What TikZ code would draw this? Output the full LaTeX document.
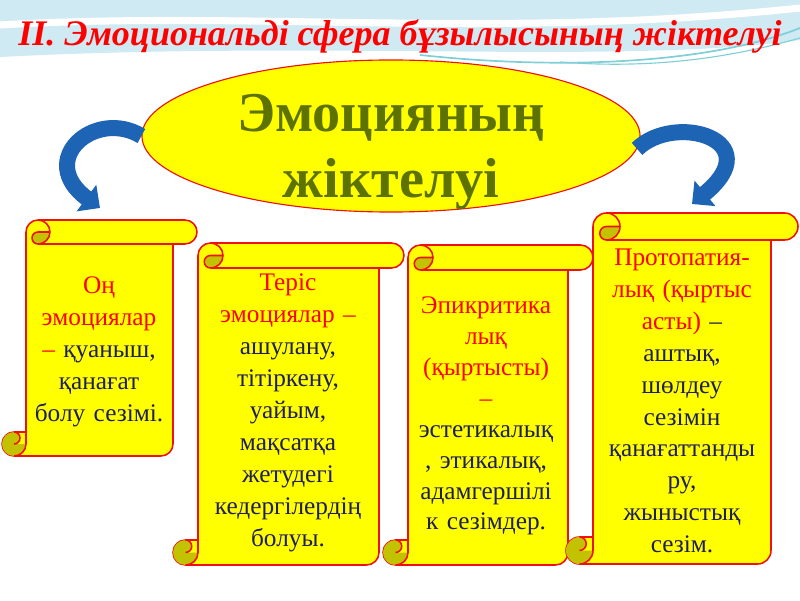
\documentclass[tikz,border=0pt]{standalone}
\usepackage{fontspec}
\setmainfont{Liberation Serif}
\usetikzlibrary{shapes.geometric,arrows.meta}

\definecolor{scrollyellow}{HTML}{FFFF00}
\definecolor{scrollred}{HTML}{F01010}
\definecolor{curlolive}{HTML}{C2C200}
\definecolor{txtred}{HTML}{FF0000}
\definecolor{txtnavy}{HTML}{1E1E5A}
\definecolor{emogreen}{HTML}{5E7200}
\definecolor{arrowblue}{HTML}{1E64B4}
\definecolor{bgblue}{HTML}{CFEAF3}
\definecolor{bgteal}{HTML}{7FCFD8}

\tikzset{
  scrollline/.style={draw=scrollred, line width=1.1pt, line join=round},
  scrolltext/.style={align=center, inner sep=0pt, font=\fontsize{18}{22.7}\selectfont},
  bluearrow/.style={draw=arrowblue, line width=0.4cm, -{Triangle[length=0.42cm,width=0.8cm]}},
}

% vertical scroll: left, right, top, bottom, roll thickness
\newcommand{\scrollbox}[5]{%
  \pgfmathsetmacro{\sa}{#5/2}%
  \pgfmathsetmacro{\sq}{#5/4}%
  \pgfmathsetmacro{\xb}{#1+#5}%
  \pgfmathsetmacro{\xc}{#1+1.5*#5}%
  \pgfmathsetmacro{\xd}{#1+2*#5}%
  \pgfmathsetmacro{\xf}{#2-#5}%
  \pgfmathsetmacro{\xg}{#2-#5/2}%
  \pgfmathsetmacro{\xh}{#1+#5/2}%
  \pgfmathsetmacro{\yt}{#3-#5/2}%
  \pgfmathsetmacro{\ytb}{#3-#5}%
  \pgfmathsetmacro{\yc}{#4+#5}%
  \pgfmathsetmacro{\yh}{#4+#5/2}%
  \draw[scrollline, fill=scrollyellow] (\xb,\yc) -- (\xb,\yt)
    arc[start angle=180,end angle=90,radius=\sa] -- (\xg,#3)
    arc[start angle=90,end angle=-90,radius=\sa] -- (\xf,\ytb) -- (\xf,\yh)
    arc[start angle=0,end angle=-90,radius=\sa] -- (\xh,#4)
    arc[start angle=-90,end angle=-270,radius=\sa] -- cycle;
  % top roll
  \fill[curlolive] (\xd,\yt) arc[start angle=0,end angle=-90,radius=\sa]
    arc[start angle=-90,end angle=-270,radius=\sq] -- cycle;
  \draw[scrollline] (\xc,#3) arc[start angle=90,end angle=-90,radius=\sa]
    arc[start angle=-90,end angle=-270,radius=\sq] -- (\xd,\yt);
  \draw[scrollline] (\xc,\ytb) -- (\xf,\ytb);
  % bottom roll
  \fill[curlolive] (\xh,\yc) arc[start angle=90,end angle=360,radius=\sa] -- (\xh,\yh)
    arc[start angle=-90,end angle=90,radius=\sq] -- cycle;
  \draw[scrollline] (\xb,\yh) arc[start angle=0,end angle=-90,radius=\sa];
  \draw[scrollline] (\xh,\yc) arc[start angle=90,end angle=-90,radius=\sq];
  \draw[scrollline] (\xb,\yc) -- (\xb,\yh);
}

\begin{document}
\begin{tikzpicture}[x=0.025cm, y=0.025cm]
\useasboundingbox (0,0) rectangle (800,600);

% background
\fill[white] (0,0) rectangle (800,600);
\fill[bgblue] (0,600) -- (800,600) -- (800,560) .. controls (620,535) and (330,560) .. (0,543) -- cycle;
\draw[white, line width=5pt] (0,575) .. controls (250,590) and (500,560) .. (800,592);
\draw[bgteal, line width=1.2pt] (420,545) .. controls (580,528) and (720,540) .. (800,572);
\draw[bgteal, line width=0.8pt] (560,538) .. controls (660,530) and (740,545) .. (800,562);

% title
\node[anchor=base, text=txtred, font=\fontsize{25.6}{30}\selectfont\bfseries\itshape] (title) at (400,554)
  {II. Эмоциональді сфера бұзылысының жіктелуі};

% central ellipse
\node[ellipse, fill=scrollyellow, draw=scrollred, line width=0.8pt, minimum width=12.45cm,
  minimum height=3.8cm, inner sep=0pt] (emo) at (391,464) {};
\node[align=center, text=emogreen, font=\fontsize{40}{47}\selectfont\bfseries] (emolabel) at (391,448)
  {Эмоцияның\\жіктелуі};

% scrolls
\scrollbox{2}{197}{380}{144}{24}
\scrollbox{173}{404}{357}{35}{25}
\scrollbox{383}{593}{355}{35}{25}
\scrollbox{566}{798}{387}{36}{27}

\node[scrolltext, text width=3.7cm] (positive) at (99,248)
  {\color{txtred}Оң\\эмоциялар\\– \color{txtnavy}қуаныш,\\қанағат\\болу сезімі.};
\node[scrolltext, text width=4.5cm] (negative) at (288,187)
  {\color{txtred}Теріс\\эмоциялар –\\\color{txtnavy}ашулану,\\тітіркену,\\уайым,\\мақсатқа\\жетудегі\\кедергілердің\\болуы.};
\node[scrolltext, text width=3.95cm, font=\fontsize{18}{22}\selectfont] (epicritic) at (486,184)
  {\color{txtred}Эпикритика\\лық\\(қыртысты)\\–\\\color{txtnavy}эстетикалық\\, этикалық,\\адамгершілі\\к сезімдер.};
\node[scrolltext, text width=4.45cm] (protopathic) at (682,199)
  {\color{txtred}Протопатия-\\лық (қыртыс\\асты) \color{txtnavy}–\\аштық,\\шөлдеу\\сезімін\\қанағаттанды\\ру,\\жыныстық\\сезім.};

% arrows
\coordinate (leftTip) at (100,392);
\coordinate (rightTip) at (692,396);
\draw[bluearrow] (emo.west) .. controls (95,492) and (35,440) .. (leftTip);
\draw[bluearrow] (emo.-3) .. controls (675,488) and (770,460) .. (rightTip);

\end{tikzpicture}
\end{document}
